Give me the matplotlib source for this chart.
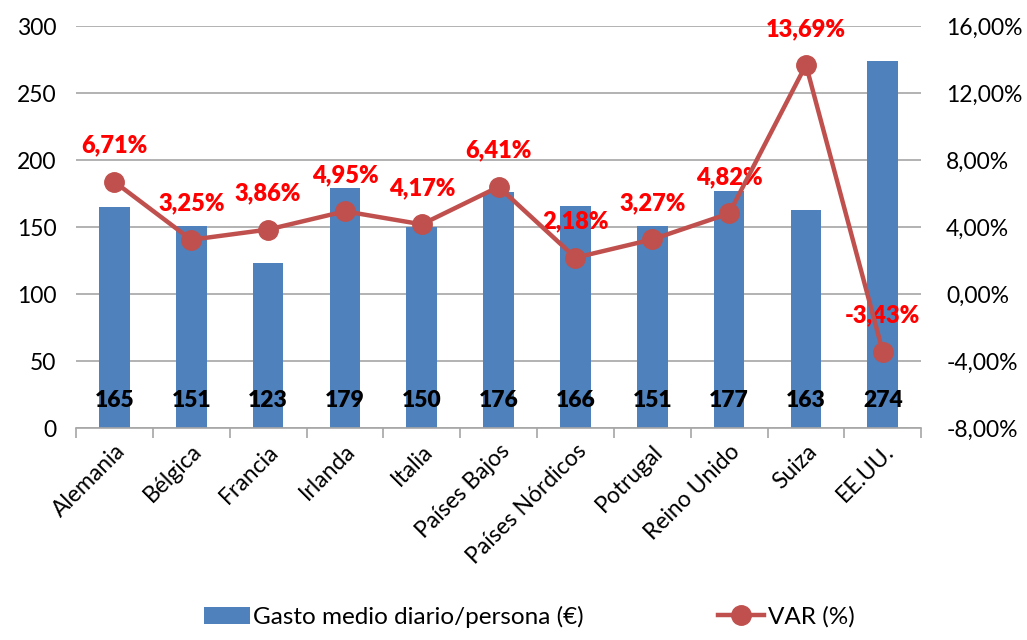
import matplotlib.pyplot as plt
import numpy as np
from matplotlib.ticker import FuncFormatter

paises = ['Alemania', 'Bélgica', 'Francia', 'Irlanda', 'Italia', 'Países Bajos',
          'Países Nórdicos', 'Potrugal', 'Reino Unido', 'Suiza', 'EE.UU.']
gasto = [165, 151, 123, 179, 150, 176, 166, 151, 177, 163, 274]
var = [6.71, 3.25, 3.86, 4.95, 4.17, 6.41, 2.18, 3.27, 4.82, 13.69, -3.43]

plt.rcParams['font.family'] = ['Lato', 'DejaVu Sans']

azul = '#4F81BD'
rojo = '#C0504D'

fig = plt.figure(figsize=(10.27, 6.4), dpi=100)
ax = fig.add_axes([0.074, 0.331, 0.823, 0.628])
x = np.arange(len(paises))

ax.bar(x, gasto, width=0.4, color=azul, zorder=2, label='Gasto medio diario/persona (€)')
for xi, v in zip(x, gasto):
    ax.text(xi, 21, str(v), ha='center', va='center', fontsize=16.5, fontweight='heavy', zorder=5)

ax.set_ylim(0, 300)
ax.set_yticks(range(0, 301, 50))
ax.set_xlim(-0.5, len(paises) - 0.5)
ax.grid(axis='y', color='#A6A6A6', linewidth=1.2, zorder=0)
for s in ['top', 'right', 'left']:
    ax.spines[s].set_visible(False)
ax.spines['bottom'].set_color('#A6A6A6')
ax.spines['bottom'].set_linewidth(1.2)
ax.tick_params(axis='y', length=0, labelsize=16.5, pad=14)
ax.set_xticks(x)
ax.set_xticklabels(paises, rotation=45, ha='right', rotation_mode='anchor', fontsize=16.5)
ax.tick_params(axis='x', length=0, pad=9)
ax.set_xticks(np.arange(-0.5, len(paises)), minor=True)
ax.tick_params(axis='x', which='minor', length=7, color='#A6A6A6', width=1.2, direction='out')

ax2 = ax.twinx()
ax2.plot(x, var, color=rojo, linewidth=3.2, marker='o', markersize=14, zorder=4, label='VAR (%)')
for xi, v in zip(x, var):
    ax2.annotate(f'{v:.2f}%'.replace('.', ','), (xi, v), xytext=(0, 26), textcoords='offset points',
                 ha='center', va='center', color='#FF0000', fontsize=17, fontweight='heavy')
ax2.set_ylim(-8, 16)
ax2.set_yticks(range(-8, 17, 4))
ax2.yaxis.set_major_formatter(FuncFormatter(lambda v, p: f'{v:.2f}%'.replace('.', ',')))
ax2.tick_params(axis='y', length=0, labelsize=16.5, pad=18)
for s in ['top', 'right', 'left', 'bottom']:
    ax2.spines[s].set_visible(False)

h1, l1 = ax.get_legend_handles_labels()
h2, l2 = ax2.get_legend_handles_labels()
fig.legend(h1 + h2, l1 + l2, loc='lower center', bbox_to_anchor=(0.515, -0.015), ncol=2,
           frameon=False, fontsize=17.5, columnspacing=5.5, handlelength=1.9, handletextpad=0.15)

fig.savefig('out.png', dpi=100)
